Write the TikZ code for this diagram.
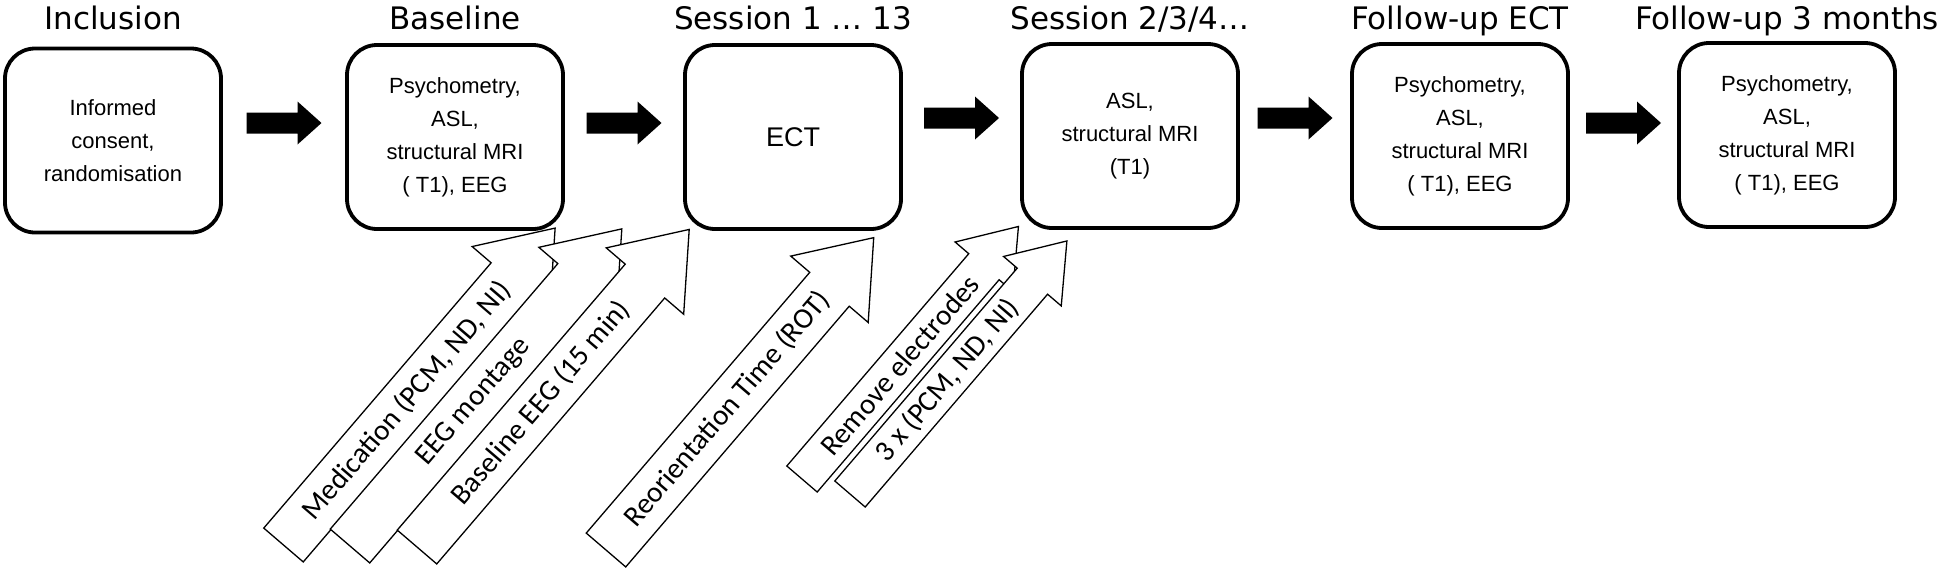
\documentclass[tikz,border=0pt]{standalone}
\usepackage{fontspec}
\setmainfont{Liberation Sans}
\newfontfamily\titlefont{DejaVu Sans}
\newfontfamily\labelfont{Carlito}
\usetikzlibrary{calc}
\newcommand\flowarrow[3]{%
  \coordinate (fa) at ($(#1.east)!0.5!(#2.west)$);
  \coordinate (fy) at (0,#3);
  \fill[flow] (fa |- fy) ++(-37.5,-10.5) -- ++(51,0) -- ++(0,-11) -- ++(24,21.5)
     -- ++(-24,21.5) -- ++(0,-11) -- ++(-51,0) -- cycle;}
\newcommand\hollowarrow[8]{%
  \begin{scope}[shift={#2}, rotate=49.4, transform shape]
    \draw[hollow] (0,-#4) -- ({#3-#6},-#4) -- ({#3-#6},-#5) -- (#3,0)
      -- ({#3-#6},#5) -- ({#3-#6},#4) -- (0,#4) -- cycle;
    \node[labeltext] (#1) at (#7,0) {#8};
  \end{scope}}
\begin{document}
\begin{tikzpicture}[x=1pt,y=-1pt,
  stage/.style={draw=black, line width=3.8pt, rounded corners=30pt, fill=white,
    minimum width=216pt, minimum height=184pt, align=center, inner sep=0pt,
    font=\fontsize{22}{33}\selectfont},
  title/.style={anchor=base, inner sep=0pt, font=\titlefont\fontsize{31}{37}\selectfont},
  hollow/.style={draw=black, line width=1.3pt, fill=white, line join=miter},
  labeltext/.style={inner sep=0pt, font=\labelfont\fontsize{29.2}{35}\selectfont},
  flow/.style={fill=black}]
\fill[white] (0,0) rectangle (1946,571);
\useasboundingbox (0,0) rectangle (1946,571);

% titles
\node[title] (t1) at (113,29) {Inclusion};
\node[title] (t2) at (455,29) {Baseline};
\node[title] (t3) at (793,29) {Session 1 … 13};
\node[title] (t4) at (1130,29) {Session 2/3/4…};
\node[title] (t5) at (1460,29) {Follow-up ECT};
\node[title] (t6) at (1787,29) {Follow-up 3 months};

% stage boxes
\node[stage] (b1) at (113,140.5) {Informed\\consent,\\randomisation};
\node[stage] (b2) at (455,137) {Psychometry,\\ASL,\\structural MRI\\( T1), EEG};
\node[stage, font=\fontsize{27}{33}\selectfont] (b3) at (793,137) {ECT};
\node[stage] (b4) at (1130,136) {ASL,\\structural MRI\\(T1)};
\node[stage] (b5) at (1460,136) {Psychometry,\\ASL,\\structural MRI\\( T1), EEG};
\node[stage] (b6) at (1787,135) {Psychometry,\\ASL,\\structural MRI\\( T1), EEG};

% black flow arrows
\flowarrow{b1}{b2}{123}
\flowarrow{b2}{b3}{123}
\flowarrow{b3}{b4}{118}
\flowarrow{b4}{b5}{118}
\flowarrow{b5}{b6}{123}

% hollow annotation arrows
\hollowarrow{med}{(283.5,545)}{417.4}{26}{51}{68}{190}{Medication (PCM, ND, NI)}
\hollowarrow{montage}{(350,546)}{417.7}{26}{51}{68}{190}{EEG montage}
\hollowarrow{beeg}{(417,547)}{418.3}{26}{51}{68}{190}{Baseline EEG (15 min)}
\hollowarrow{rot}{(606,550)}{411.4}{26}{51}{68}{186}{Reorientation Time (ROT)}
\hollowarrow{remove}{(802,479)}{332.6}{20}{38}{53}{150}{Remove electrodes}
\hollowarrow{three}{(850,494)}{333.3}{20}{38}{53}{150}{3 x (PCM, ND, NI)}
\end{tikzpicture}
\end{document}
